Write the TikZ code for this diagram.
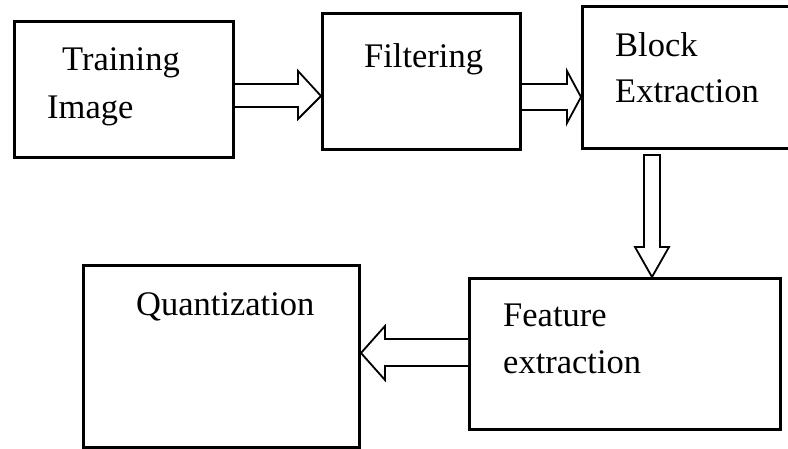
\documentclass[tikz,border=0pt]{standalone}
\usepackage{fontspec}
\setmainfont{Liberation Serif}
\begin{document}
\begin{tikzpicture}[x=1pt,y=-1pt,
  box/.style={draw=black, line width=3pt, rectangle, inner sep=0pt, anchor=north west},
  lbl/.style={anchor=base west, inner sep=0pt, font=\fontsize{34.5}{40}\selectfont},
  blockarrow/.style={draw=black, line width=1.8pt, fill=white, line join=miter}]
\useasboundingbox (0,0) rectangle (788,448);
\clip (0,0) rectangle (788,448);
% boxes
\node (b1) [box, minimum width=219pt, minimum height=136pt] at (13,20) {};
\node (b2) [box, minimum width=198pt, minimum height=136pt] at (321,12) {};
\node (b3) [box, minimum width=230pt, minimum height=142pt] at (581,5) {};
\node (b4) [box, minimum width=311pt, minimum height=151pt] at (468,277) {};
\node (b5) [box, minimum width=276pt, minimum height=182pt] at (82,264) {};
% labels
\node (t1a) [lbl] at (62,70) {Training};
\node (t1b) [lbl] at (47,118) {Image};
\node (t2) [lbl] at (364,67) {Filtering};
\node (t3a) [lbl] at (615,56) {Block};
\node (t3b) [lbl] at (615,102) {Extraction};
\node (t4a) [lbl] at (503,326) {Feature};
\node (t4b) [lbl] at (503,373) {extraction};
\node (t5) [lbl] at (136,315) {Quantization};
% arrows
\draw[blockarrow] (b1.east|-0,84) -- (298,84) -- (298,71) -- (b2.west|-0,96) -- (298,119) -- (298,107) -- (b1.east|-0,107);
\draw[blockarrow] (b2.east|-0,84) -- (567,84) -- (567,71) -- (b3.west|-0,97) -- (567,123) -- (567,110) -- (b2.east|-0,110);
\draw[blockarrow] (644,155) -- (644,247) -- (635,247) -- (652,0|-b4.north) -- (669,247) -- (660,247) -- (660,155) -- cycle;
\draw[blockarrow] (b4.west|-0,339) -- (385,339) -- (385,326) -- (b5.east|-0,353) -- (385,380) -- (385,366) -- (b4.west|-0,366);
\end{tikzpicture}
\end{document}
